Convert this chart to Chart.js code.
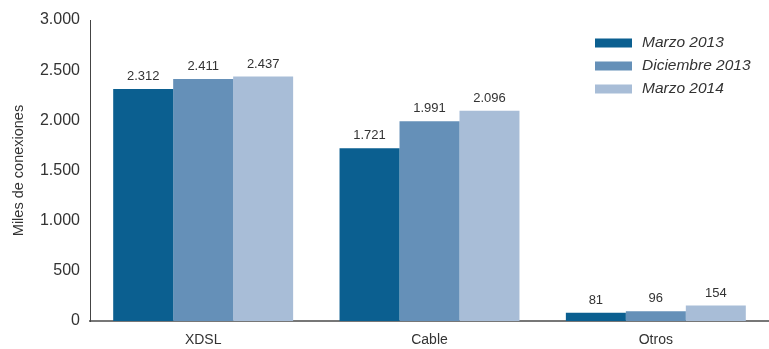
<!DOCTYPE html>
<html>
<head>
<meta charset="utf-8">
<script src="https://cdn.jsdelivr.net/npm/chart.js@4/dist/chart.umd.min.js"></script>
<style>
html,body{margin:0;padding:0;background:#fff;}
#wrap{width:769px;height:349px;position:relative;}
</style>
</head>
<body>
<div id="wrap"><canvas id="c" width="769" height="349"></canvas></div>
<script>
const categories = ["XDSL", "Cable", "Otros"];
const seriesNames = ["Marzo 2013", "Diciembre 2013", "Marzo 2014"];
const marzo2013 = [2312, 1721, 81];
const diciembre2013 = [2411, 1991, 96];
const marzo2014 = [2437, 2096, 154];
const yTicks = [0, 500, 1000, 1500, 2000, 2500, 3000];
const colors = ["#0b5f90", "#6590b8", "#a8bdd7"];

const fmt = v => v.toLocaleString('de-DE');
const FONT = "'Liberation Sans', Arial, sans-serif";

const valueLabels = {
  id: 'valueLabels',
  afterDatasetsDraw(chart) {
    const ctx = chart.ctx;
    ctx.save();
    ctx.font = "13px " + FONT;
    ctx.fillStyle = "#333";
    ctx.textAlign = "center";
    ctx.textBaseline = "bottom";
    chart.data.datasets.forEach((ds, i) => {
      const meta = chart.getDatasetMeta(i);
      meta.data.forEach((bar, j) => {
        ctx.fillText(fmt(ds.data[j]), bar.x, bar.y - 6);
      });
    });
    ctx.restore();
  }
};

const customLegend = {
  id: 'customLegend',
  afterDraw(chart) {
    const ctx = chart.ctx;
    ctx.save();
    ctx.font = "italic 15.5px " + FONT;
    ctx.textBaseline = "middle";
    chart.data.datasets.forEach((ds, i) => {
      const y = 43 + i * 23;
      ctx.fillStyle = ds.backgroundColor;
      ctx.fillRect(595, y - 4.5, 37, 9);
      ctx.fillStyle = "#333";
      ctx.fillText(ds.label, 642, y);
    });
    ctx.restore();
  }
};

new Chart(document.getElementById('c'), {
  type: 'bar',
  data: {
    labels: categories,
    datasets: [
      { label: seriesNames[0], data: marzo2013, backgroundColor: colors[0] },
      { label: seriesNames[1], data: diciembre2013, backgroundColor: colors[1] },
      { label: seriesNames[2], data: marzo2014, backgroundColor: colors[2] }
    ]
  },
  options: {
    responsive: false,
    animation: false,
    layout: { padding: { top: 20, right: 0, bottom: 0, left: 0 } },
    plugins: { legend: { display: false }, tooltip: { enabled: false } },
    datasets: { bar: { categoryPercentage: 0.795, barPercentage: 1.0, borderWidth: 0 } },
    scales: {
      x: {
        grid: { display: false, drawTicks: false },
        border: { display: true, color: "#777", width: 2 },
        ticks: { color: "#333", font: { size: 14, family: FONT }, padding: 11 },
        afterFit(s) { s.height = 28; }
      },
      y: {
        min: 0, max: 3000,
        afterBuildTicks(s) { s.ticks = yTicks.map(v => ({ value: v })); },
        grid: { display: false, drawTicks: false },
        border: { display: true, color: "#444", width: 1 },
        ticks: { color: "#333", font: { size: 16, family: FONT }, padding: 10, callback: v => fmt(v) },
        title: { display: true, text: "Miles de conexiones", color: "#333", font: { size: 14.5, family: FONT }, padding: { top: 10, bottom: 0 } },
        afterFit(s) { s.width = 90; }
      }
    }
  },
  plugins: [valueLabels, customLegend]
});
</script>
</body>
</html>
